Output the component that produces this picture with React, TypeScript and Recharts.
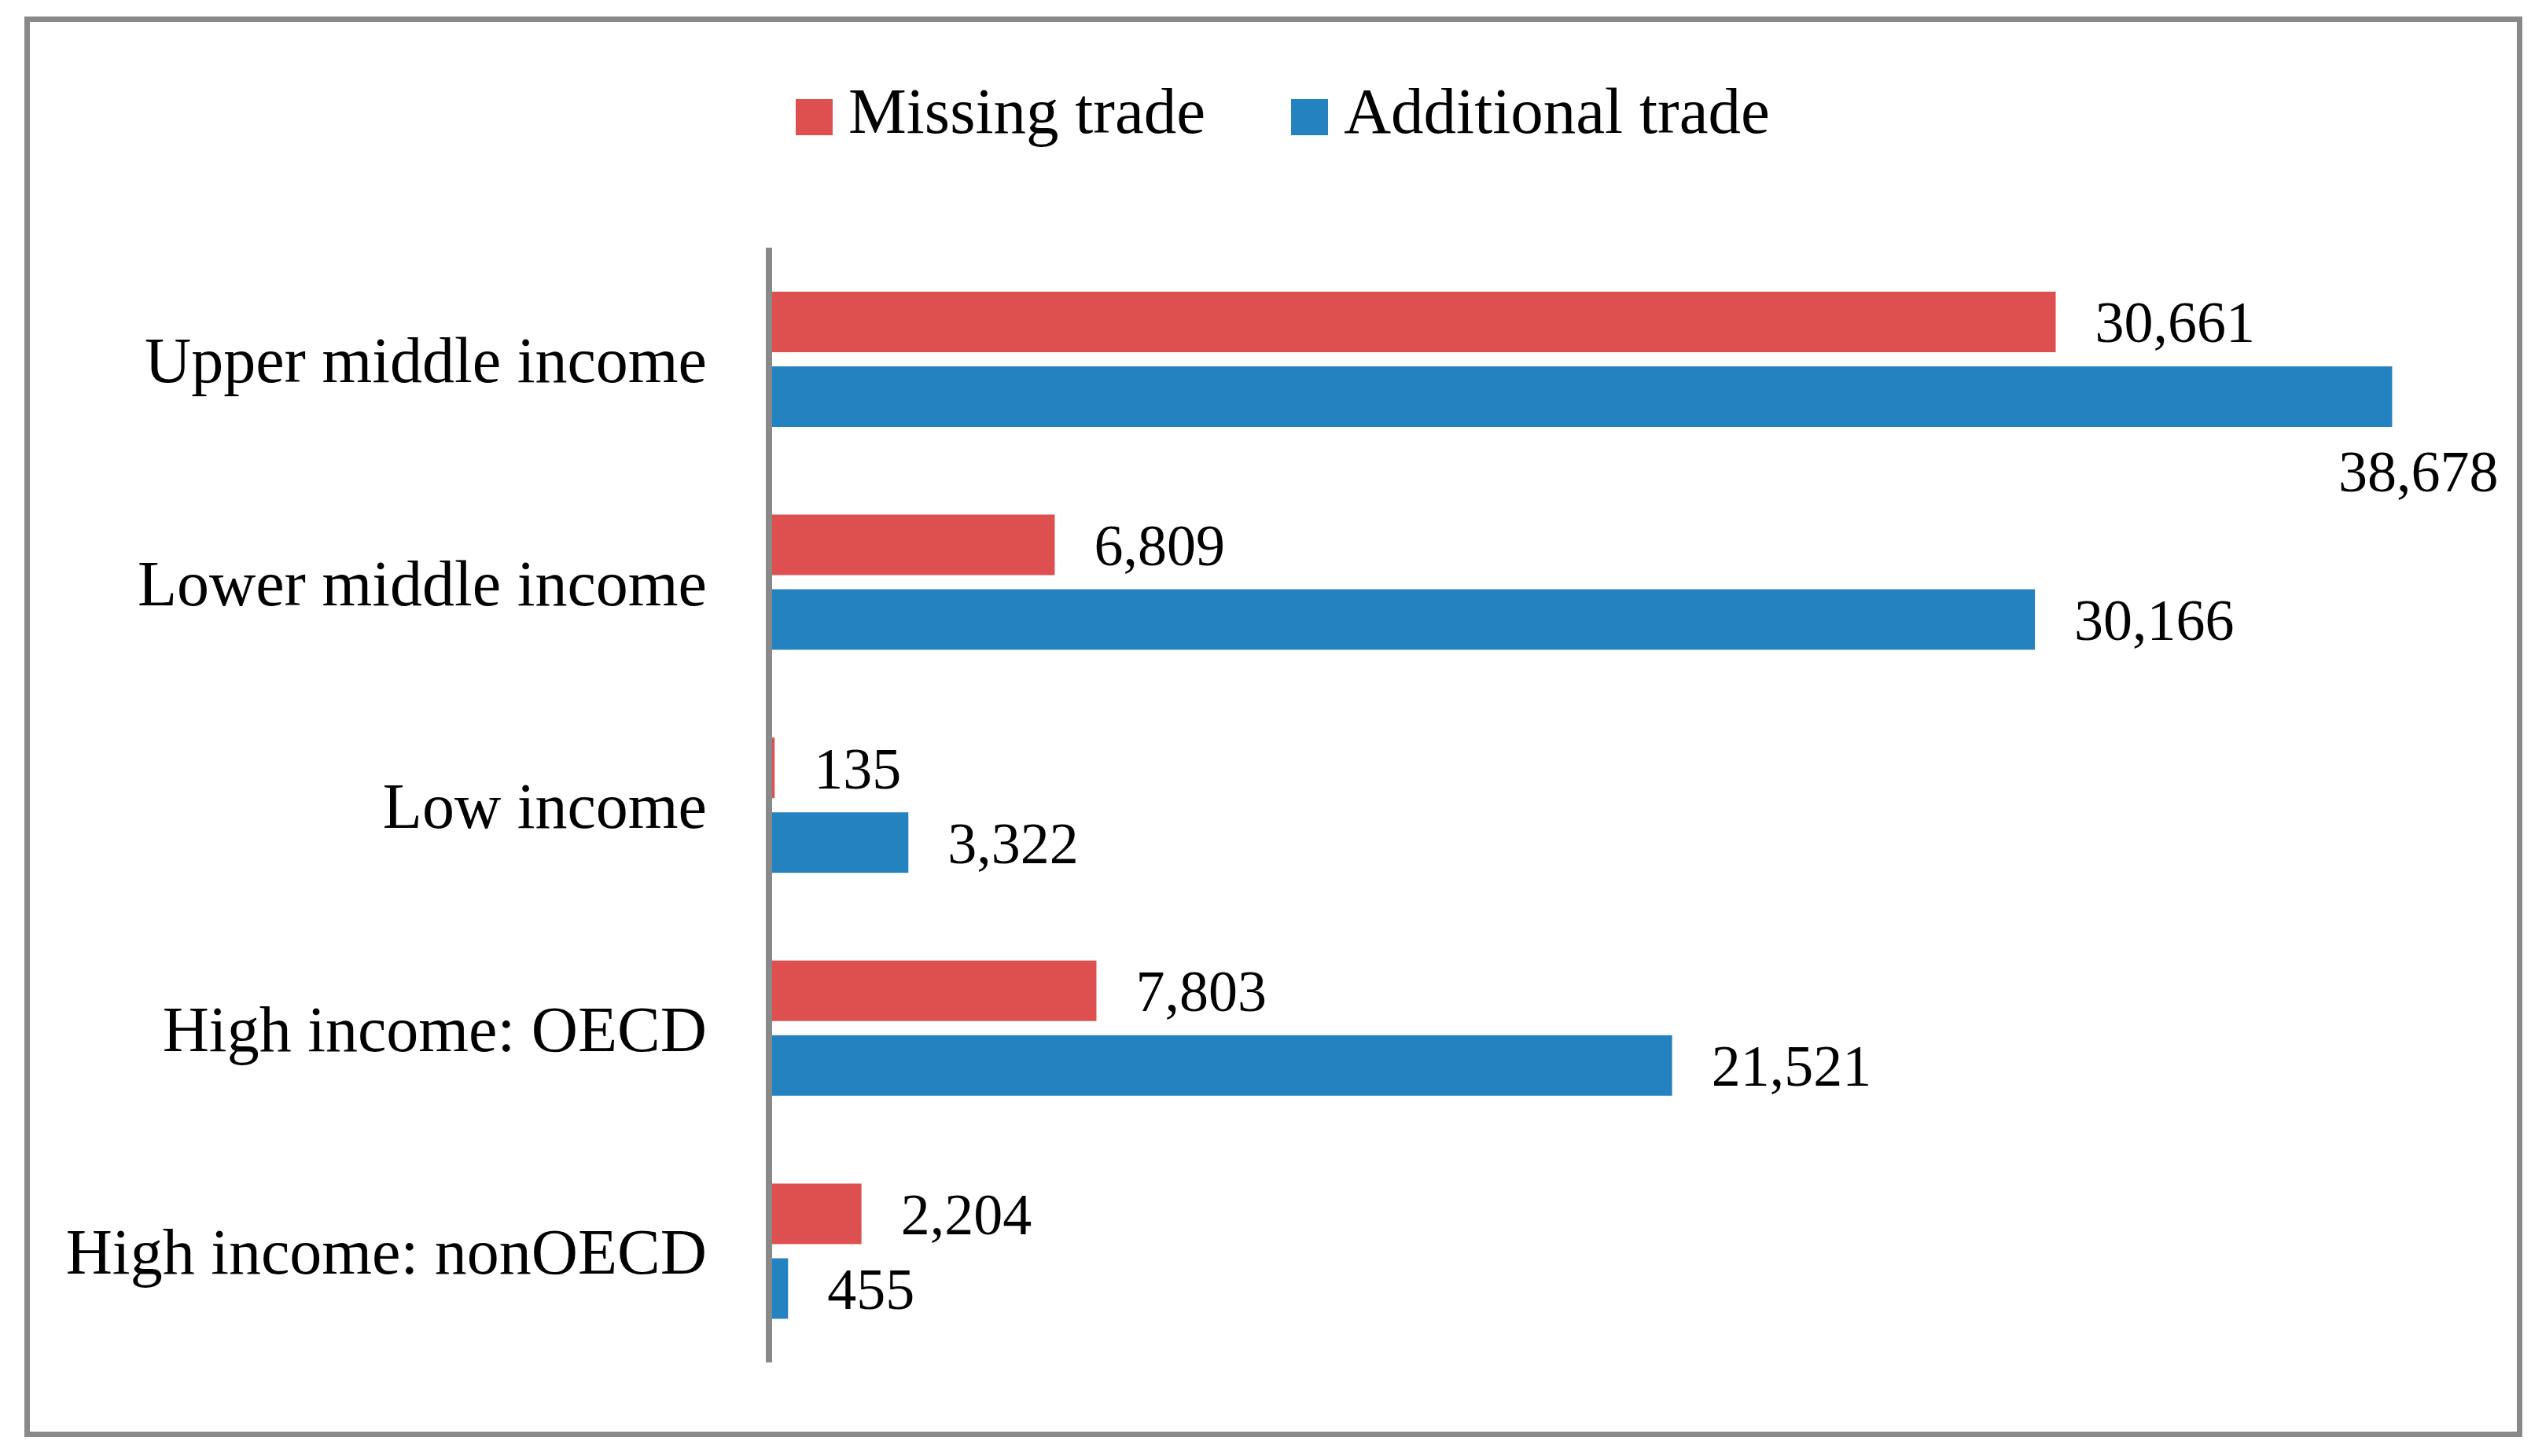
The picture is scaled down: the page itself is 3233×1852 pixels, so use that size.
import React from 'react';
import { BarChart, Bar, XAxis, YAxis, Legend } from 'recharts';

const categories = [
  'Upper middle income',
  'Lower middle income',
  'Low income',
  'High income: OECD',
  'High income: nonOECD',
];
const missingTrade = [30661, 6809, 135, 7803, 2204];
const additionalTrade = [38678, 30166, 3322, 21521, 455];
const seriesNames = ['Missing trade', 'Additional trade'];

const RED = '#DD504F';
const BLUE = '#2582C0';
const GRAY = '#898989';
const W = 3233;
const H = 1852;

const data = categories.map((name, i) => ({
  name,
  missing: missingTrade[i],
  additional: additionalTrade[i],
}));

const fmt = (v: number) => v.toLocaleString('en-US');

const MissingLabel = (props: any) => {
  const { x, y, width, height, value } = props;
  return (
    <text x={x + width + 50} y={y + height / 2} dy="0.35em" fontSize={74} fill="#000" textAnchor="start">
      {fmt(value)}
    </text>
  );
};

const maxAdditional = Math.max(...additionalTrade);
const AdditionalLabel = (props: any) => {
  const { x, y, width, height, value } = props;
  if (value === maxAdditional) {
    return (
      <text x={x + width + 135} y={y + height + 56} dy="0.35em" fontSize={74} fill="#000" textAnchor="end">
        {fmt(value)}
      </text>
    );
  }
  return (
    <text x={x + width + 50} y={y + height / 2} dy="0.35em" fontSize={74} fill="#000" textAnchor="start">
      {fmt(value)}
    </text>
  );
};

const renderLegend = (props: any) => {
  const payload = [...(props.payload || [])].sort(
    (a: any, b: any) => seriesNames.indexOf(a.value) - seriesNames.indexOf(b.value)
  );
  return (
    <div style={{ display: 'flex', flexDirection: 'row', alignItems: 'flex-start' }}>
      {payload.map((entry: any, i: number) => (
        <div key={i} style={{ display: 'flex', alignItems: 'flex-start', marginRight: i === 0 ? 109 : 0 }}>
          <div style={{ width: 47, height: 46, background: entry.color, marginTop: 26, marginRight: 20 }} />
          <span style={{ fontSize: 83, lineHeight: 1, color: '#000', whiteSpace: 'nowrap' }}>{entry.value}</span>
        </div>
      ))}
    </div>
  );
};

export default function App() {
  return (
    <div style={{ position: 'absolute', left: 0, top: 0, width: W, height: H, background: '#fff', fontFamily: '"Liberation Serif", serif' }}>
      <div
        style={{
          position: 'absolute',
          left: 31,
          top: 21,
          width: 3177,
          height: 1807,
          border: `7px solid ${GRAY}`,
          boxSizing: 'border-box',
        }}
      />
      <div style={{ position: 'absolute', left: 0, top: 0 }}>
        <BarChart
          width={W}
          height={H}
          data={data}
          layout="vertical"
          margin={{ top: 315, right: 120, bottom: 119, left: 0 }}
          barGap={18}
        >
          <XAxis type="number" domain={[0, 40000]} hide />
          <YAxis
            type="category"
            dataKey="name"
            width={978}
            axisLine={{ stroke: GRAY, strokeWidth: 8 }}
            tickLine={false}
            tickSize={0}
            tickMargin={79}
            tick={{ fontSize: 82, fill: '#000' }}
            interval={0}
          />
          <Legend
            layout="horizontal"
            verticalAlign="middle"
            align="center"
            wrapperStyle={{ top: 100, left: 1012, width: 1400, height: 100 }}
            content={renderLegend}
          />
          <Bar dataKey="missing" name={seriesNames[0]} fill={RED} barSize={77} isAnimationActive={false} label={MissingLabel} />
          <Bar dataKey="additional" name={seriesNames[1]} fill={BLUE} barSize={77} isAnimationActive={false} label={AdditionalLabel} />
        </BarChart>
      </div>
    </div>
  );
}
